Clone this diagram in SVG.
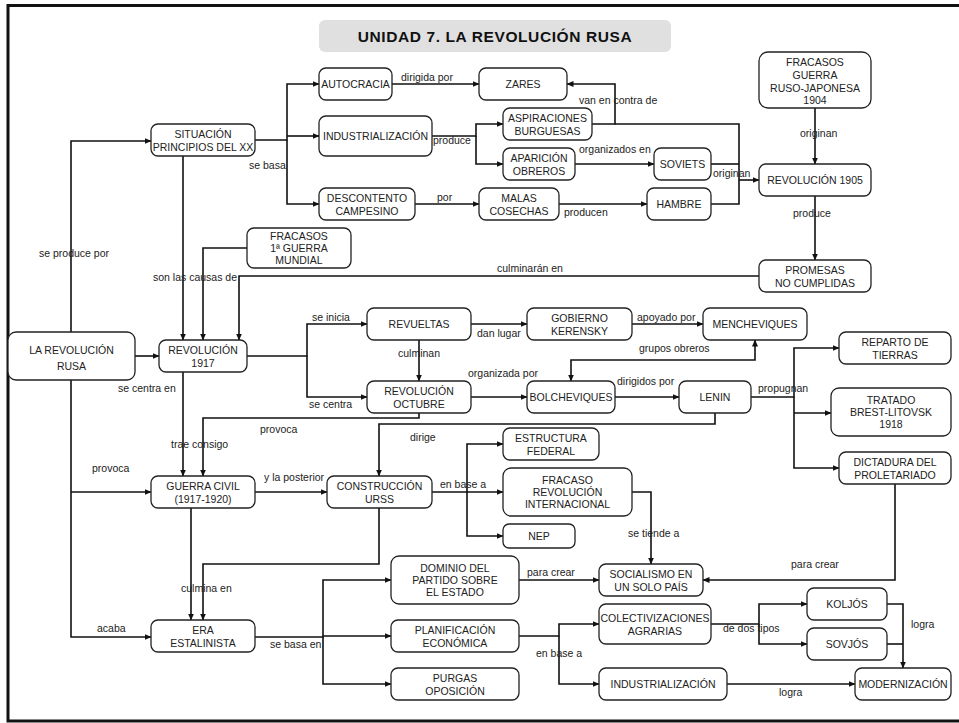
<svg xmlns="http://www.w3.org/2000/svg" width="959" height="723" viewBox="0 0 959 723">
<style>
.n{fill:#fff;stroke:#222;stroke-width:1.3}
.t{font-family:"Liberation Sans",Arial,sans-serif;font-size:10.5px;fill:#222;text-anchor:middle}
.l{font-family:"Liberation Sans",Arial,sans-serif;font-size:10.5px;fill:#222}
.c path{fill:none;stroke:#111;stroke-width:1.6}
</style>
<defs>
<marker id="a" markerWidth="7" markerHeight="6" refX="6.5" refY="3" orient="auto-start-reverse" markerUnits="userSpaceOnUse"><path d="M0,0 L7,3 L0,6 Z" fill="#111"/></marker>
</defs>
<rect width="959" height="723" fill="#fff"/>
<path d="M959,5.5 H8 V721 H959" fill="none" stroke="#111" stroke-width="3"/>
<g id="title">
<rect x="319" y="20" width="352" height="32" rx="6" fill="#e0e0e0"/>
<text x="495" y="42" font-family="Liberation Sans,Arial,sans-serif" font-size="15.5" font-weight="bold" letter-spacing="0.6" text-anchor="middle" fill="#111">UNIDAD 7. LA REVOLUCIÓN RUSA</text>
</g>
<g class="c" id="connectors">
<path d="M71,332 V141 H151" marker-end="url(#a)"/>
<path d="M135,356 H159" marker-end="url(#a)"/>
<path d="M183,156 V340" marker-end="url(#a)"/>
<path d="M247,248 H203 V340" marker-end="url(#a)"/>
<path d="M759,276 H239 V340" marker-end="url(#a)"/>
<path d="M255,140 H287 V84 H319" marker-end="url(#a)"/>
<path d="M287,136 H319" marker-end="url(#a)"/>
<path d="M287,140 V204 H319" marker-end="url(#a)"/>
<path d="M392,84 H479" marker-end="url(#a)"/>
<path d="M432,136 H476 V124 H503" marker-end="url(#a)"/>
<path d="M476,136 V164 H503" marker-end="url(#a)"/>
<path d="M592,124 H615 V84 H567" marker-end="url(#a)"/>
<path d="M615,124 H739 V204 H711"/>
<path d="M711,164 H739"/>
<path d="M739,180 H759" marker-end="url(#a)"/>
<path d="M575,164 H654" marker-end="url(#a)"/>
<path d="M559,204 H647" marker-end="url(#a)"/>
<path d="M415,204 H479" marker-end="url(#a)"/>
<path d="M815,108 V164" marker-end="url(#a)"/>
<path d="M815,196 V260" marker-end="url(#a)"/>
<path d="M247,356 H307 V324 H367" marker-end="url(#a)"/>
<path d="M307,356 V397 H367" marker-end="url(#a)"/>
<path d="M471,324 H527" marker-end="url(#a)"/>
<path d="M419,340 V381" marker-end="url(#a)"/>
<path d="M632,324 H703" marker-end="url(#a)"/>
<path d="M571,381 V360 H755 V340" marker-start="url(#a)" marker-end="url(#a)"/>
<path d="M471,397 H527" marker-end="url(#a)"/>
<path d="M615,397 H679" marker-end="url(#a)"/>
<path d="M751,397 H794 V348 H839" marker-end="url(#a)"/>
<path d="M794,397 V468 H839" marker-end="url(#a)"/>
<path d="M794,413 H831" marker-end="url(#a)"/>
<path d="M715,413 V424 H379 V476" marker-end="url(#a)"/>
<path d="M419,413 V418 H203 V476" marker-end="url(#a)"/>
<path d="M183,372 V476" marker-end="url(#a)"/>
<path d="M71,380 V637 H151" marker-end="url(#a)"/>
<path d="M71,492 H151" marker-end="url(#a)"/>
<path d="M255,492 H327" marker-end="url(#a)"/>
<path d="M191,508 V620" marker-end="url(#a)"/>
<path d="M379,508 V564 H203 V620" marker-end="url(#a)"/>
<path d="M432,492 H467 V444 H503" marker-end="url(#a)"/>
<path d="M467,492 H503" marker-end="url(#a)"/>
<path d="M467,492 V536 H503" marker-end="url(#a)"/>
<path d="M632,492 H651 V564" marker-end="url(#a)"/>
<path d="M895,484 V580 H703" marker-end="url(#a)"/>
<path d="M255,637 H323 V580 H391" marker-end="url(#a)"/>
<path d="M323,636 H391" marker-end="url(#a)"/>
<path d="M323,637 V684 H391" marker-end="url(#a)"/>
<path d="M519,580 H599" marker-end="url(#a)"/>
<path d="M519,636 H559 V624 H599" marker-end="url(#a)"/>
<path d="M559,636 V684 H599" marker-end="url(#a)"/>
<path d="M711,624 H759 V604 H807" marker-end="url(#a)"/>
<path d="M759,624 V644 H807" marker-end="url(#a)"/>
<path d="M887,604 H903 V668" marker-end="url(#a)"/>
<path d="M887,644 H903"/>
<path d="M727,684 H855" marker-end="url(#a)"/>
</g>
<g id="labels">
<text class="l" x="39" y="256.5">se produce por</text>
<text class="l" x="153" y="280.5">son las causas de</text>
<text class="l" x="497" y="271.5">culminarán en</text>
<text class="l" x="249" y="168.5">se basa</text>
<text class="l" x="401" y="80.5">dirigida por</text>
<text class="l" x="433" y="143.5">produce</text>
<text class="l" x="579" y="103.5">van en contra de</text>
<text class="l" x="579" y="152.5">organizados en</text>
<text class="l" x="713" y="176.5">originan</text>
<text class="l" x="437" y="200.5">por</text>
<text class="l" x="564" y="215.5">producen</text>
<text class="l" x="800" y="136.5">originan</text>
<text class="l" x="793" y="216.5">produce</text>
<text class="l" x="312" y="320.5">se inicia</text>
<text class="l" x="309" y="407.5">se centra</text>
<text class="l" x="477" y="336.5">dan lugar</text>
<text class="l" x="398" y="356.5">culminan</text>
<text class="l" x="637" y="320.5">apoyado por</text>
<text class="l" x="639" y="351.5">grupos obreros</text>
<text class="l" x="468" y="376.5">organizada por</text>
<text class="l" x="617" y="384.5">dirigidos por</text>
<text class="l" x="758" y="391.5">propugnan</text>
<text class="l" x="410" y="440.5">dirige</text>
<text class="l" x="260" y="432.5">provoca</text>
<text class="l" x="171" y="447.5">trae consigo</text>
<text class="l" x="118" y="391.5">se centra en</text>
<text class="l" x="92" y="471.5">provoca</text>
<text class="l" x="97" y="631.5">acaba</text>
<text class="l" x="264" y="480.5">y la posterior</text>
<text class="l" x="181" y="591.5">culmina en</text>
<text class="l" x="440" y="487.5">en base a</text>
<text class="l" x="628" y="536.5">se tiende a</text>
<text class="l" x="791" y="567.5">para crear</text>
<text class="l" x="270" y="647.5">se basa en</text>
<text class="l" x="527" y="575.5">para crear</text>
<text class="l" x="536" y="656.5">en base a</text>
<text class="l" x="723" y="631.5">de dos tipos</text>
<text class="l" x="911" y="627.5">logra</text>
<text class="l" x="779" y="695.5">logra</text>
</g>
<g id="n_situacion"><rect class="n" x="151" y="124" width="104" height="32" rx="7"/><text class="t" x="203" y="137.5">SITUACIÓN</text><text class="t" x="203" y="150.5">PRINCIPIOS DEL XX</text></g>
<g id="n_autocracia"><rect class="n" x="319" y="68" width="73" height="32" rx="7"/><text class="t" x="355.5" y="87.5">AUTOCRACIA</text></g>
<g id="n_zares"><rect class="n" x="479" y="68" width="88" height="32" rx="7"/><text class="t" x="523" y="87.5">ZARES</text></g>
<g id="n_industrializacion1"><rect class="n" x="319" y="116" width="113" height="40" rx="7"/><text class="t" x="375.5" y="139.5">INDUSTRIALIZACIÓN</text></g>
<g id="n_aspiraciones"><rect class="n" x="503" y="108" width="89" height="32" rx="7"/><text class="t" x="547.5" y="121.5">ASPIRACIONES</text><text class="t" x="547.5" y="134.5">BURGUESAS</text></g>
<g id="n_aparicion"><rect class="n" x="503" y="148" width="72" height="32" rx="7"/><text class="t" x="539" y="161.5">APARICIÓN</text><text class="t" x="539" y="174.5">OBREROS</text></g>
<g id="n_descontento"><rect class="n" x="319" y="188" width="96" height="32" rx="7"/><text class="t" x="367" y="201.5">DESCONTENTO</text><text class="t" x="367" y="214.5">CAMPESINO</text></g>
<g id="n_malas"><rect class="n" x="479" y="188" width="80" height="32" rx="7"/><text class="t" x="519" y="201.5">MALAS</text><text class="t" x="519" y="214.5">COSECHAS</text></g>
<g id="n_soviets"><rect class="n" x="654" y="148" width="57" height="32" rx="7"/><text class="t" x="682.5" y="167.5">SOVIETS</text></g>
<g id="n_hambre"><rect class="n" x="647" y="188" width="64" height="32" rx="7"/><text class="t" x="679" y="207.5">HAMBRE</text></g>
<g id="n_fracasos_rj"><rect class="n" x="759" y="52" width="112" height="56" rx="9"/><text class="t" x="815" y="65.5">FRACASOS</text><text class="t" x="815" y="78.5">GUERRA</text><text class="t" x="815" y="91.5">RUSO-JAPONESA</text><text class="t" x="815" y="104">1904</text></g>
<g id="n_rev1905"><rect class="n" x="759" y="164" width="112" height="32" rx="7"/><text class="t" x="815" y="183.5">REVOLUCIÓN 1905</text></g>
<g id="n_promesas"><rect class="n" x="759" y="260" width="112" height="32" rx="7"/><text class="t" x="815" y="273.5">PROMESAS</text><text class="t" x="815" y="286.5">NO CUMPLIDAS</text></g>
<g id="n_fracasos_gm"><rect class="n" x="247" y="228" width="104" height="40" rx="7"/><text class="t" x="299" y="239.5">FRACASOS</text><text class="t" x="299" y="251.5">1ª GUERRA</text><text class="t" x="299" y="264">MUNDIAL</text></g>
<g id="n_lrr"><rect class="n" x="8" y="332" width="127" height="48" rx="8"/><text class="t" x="71.5" y="353.5" font-size="12.5">LA REVOLUCIÓN</text><text class="t" x="71.5" y="369.5" font-size="12.5">RUSA</text></g>
<g id="n_rev1917"><rect class="n" x="159" y="340" width="88" height="32" rx="7"/><text class="t" x="203" y="353.5">REVOLUCIÓN</text><text class="t" x="203" y="366.5">1917</text></g>
<g id="n_revueltas"><rect class="n" x="367" y="308" width="104" height="32" rx="7"/><text class="t" x="419" y="327.5">REVUELTAS</text></g>
<g id="n_gobierno"><rect class="n" x="527" y="308" width="105" height="32" rx="7"/><text class="t" x="579.5" y="321.5">GOBIERNO</text><text class="t" x="579.5" y="334.5">KERENSKY</text></g>
<g id="n_mencheviques"><rect class="n" x="703" y="308" width="104" height="32" rx="7"/><text class="t" x="755" y="327.5">MENCHEVIQUES</text></g>
<g id="n_revoct"><rect class="n" x="367" y="381" width="104" height="32" rx="7"/><text class="t" x="419" y="394.5">REVOLUCIÓN</text><text class="t" x="419" y="407.5">OCTUBRE</text></g>
<g id="n_bolcheviques"><rect class="n" x="527" y="381" width="88" height="32" rx="7"/><text class="t" x="571" y="400.5">BOLCHEVIQUES</text></g>
<g id="n_lenin"><rect class="n" x="679" y="381" width="72" height="32" rx="7"/><text class="t" x="715" y="400.5">LENIN</text></g>
<g id="n_reparto"><rect class="n" x="839" y="332" width="112" height="32" rx="7"/><text class="t" x="895" y="345.5">REPARTO DE</text><text class="t" x="895" y="358.5">TIERRAS</text></g>
<g id="n_tratado"><rect class="n" x="831" y="388" width="120" height="48" rx="8"/><text class="t" x="891" y="403.5">TRATADO</text><text class="t" x="891" y="415.5">BREST-LITOVSK</text><text class="t" x="891" y="428">1918</text></g>
<g id="n_dictadura"><rect class="n" x="839" y="452" width="112" height="32" rx="7"/><text class="t" x="895" y="465.5">DICTADURA DEL</text><text class="t" x="895" y="478.5">PROLETARIADO</text></g>
<g id="n_estructura"><rect class="n" x="503" y="428" width="96" height="32" rx="7"/><text class="t" x="551" y="441.5">ESTRUCTURA</text><text class="t" x="551" y="454.5">FEDERAL</text></g>
<g id="n_guerracivil"><rect class="n" x="151" y="476" width="104" height="32" rx="7"/><text class="t" x="203" y="489.5">GUERRA CIVIL</text><text class="t" x="203" y="502.5">(1917-1920)</text></g>
<g id="n_construccion"><rect class="n" x="327" y="476" width="105" height="32" rx="7"/><text class="t" x="379.5" y="489.5">CONSTRUCCIÓN</text><text class="t" x="379.5" y="502.5">URSS</text></g>
<g id="n_fracaso_ri"><rect class="n" x="503" y="468" width="129" height="48" rx="8"/><text class="t" x="567.5" y="483.5">FRACASO</text><text class="t" x="567.5" y="495.5">REVOLUCIÓN</text><text class="t" x="567.5" y="508">INTERNACIONAL</text></g>
<g id="n_nep"><rect class="n" x="503" y="524" width="72" height="24" rx="6"/><text class="t" x="539" y="539.5">NEP</text></g>
<g id="n_dominio"><rect class="n" x="391" y="556" width="128" height="48" rx="8"/><text class="t" x="455" y="571.5">DOMINIO DEL</text><text class="t" x="455" y="583.5">PARTIDO SOBRE</text><text class="t" x="455" y="596">EL ESTADO</text></g>
<g id="n_socialismo"><rect class="n" x="599" y="564" width="104" height="32" rx="7"/><text class="t" x="651" y="577.5">SOCIALISMO EN</text><text class="t" x="651" y="590.5">UN SOLO PAÍS</text></g>
<g id="n_era"><rect class="n" x="151" y="620" width="104" height="32" rx="7"/><text class="t" x="203" y="633.5">ERA</text><text class="t" x="203" y="646.5">ESTALINISTA</text></g>
<g id="n_planificacion"><rect class="n" x="391" y="620" width="128" height="32" rx="7"/><text class="t" x="455" y="633.5">PLANIFICACIÓN</text><text class="t" x="455" y="646.5">ECONÓMICA</text></g>
<g id="n_purgas"><rect class="n" x="391" y="668" width="128" height="32" rx="7"/><text class="t" x="455" y="681.5">PURGAS</text><text class="t" x="455" y="694.5">OPOSICIÓN</text></g>
<g id="n_colectivizaciones"><rect class="n" x="599" y="604" width="112" height="40" rx="7"/><text class="t" x="655" y="621.5">COLECTIVIZACIONES</text><text class="t" x="655" y="634.5">AGRARIAS</text></g>
<g id="n_koljos"><rect class="n" x="807" y="588" width="80" height="32" rx="7"/><text class="t" x="847" y="607.5">KOLJÓS</text></g>
<g id="n_sovjos"><rect class="n" x="807" y="628" width="80" height="32" rx="7"/><text class="t" x="847" y="647.5">SOVJÓS</text></g>
<g id="n_industrializacion2"><rect class="n" x="599" y="668" width="128" height="32" rx="7"/><text class="t" x="663" y="687.5">INDUSTRIALIZACIÓN</text></g>
<g id="n_modernizacion"><rect class="n" x="855" y="668" width="96" height="32" rx="7"/><text class="t" x="903" y="687.5">MODERNIZACIÓN</text></g>
</svg>
